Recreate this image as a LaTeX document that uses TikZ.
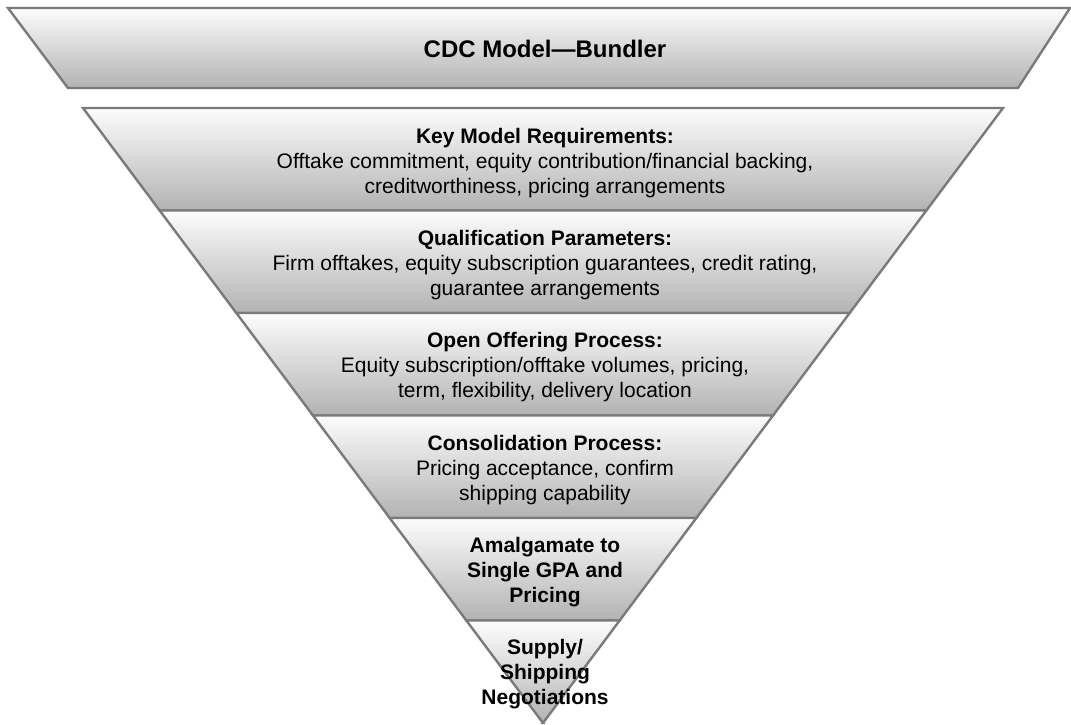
\documentclass[tikz,border=0pt]{standalone}
\usepackage{fontspec}
\setmainfont{Liberation Sans}
\usepackage{tikz}

\begin{document}
\begin{tikzpicture}[x=1pt, y=-1pt,
      band/.style={top color=black!1, bottom color=black!30,
        draw=black!52, line width=2.4pt, line join=miter},
      lbl/.style={font=\fontsize{21}{25}\selectfont, align=center, inner sep=0pt},
      hdr/.style={font=\fontsize{24}{28}\selectfont\bfseries, inner sep=0pt}]

    \useasboundingbox (0,0) rectangle (1071,724);

    % heading band
    \shade[band] (8,8) -- (1070,8) -- (1018,88) -- (68,88) -- cycle;
    \node[hdr] (title) at (545,49) {CDC Model---Bundler};

    % funnel bands
    \foreach \i in {0,...,5} {
      \pgfmathsetmacro\ya{108+102.5*\i}
      \pgfmathsetmacro\yb{\ya+102.5}
      \pgfmathsetmacro\xa{83+0.748*102.5*\i}
      \pgfmathsetmacro\xb{\xa+0.748*102.5}
      \shade[band] (\xa,\ya) -- ({1086-\xa},\ya) -- ({1086-\xb},\yb)
        -- (\xb,\yb) -- cycle;
    }

    \node[lbl] (req) at (545,163) {\textbf{Key Model Requirements:}\\
      Offtake commitment, equity contribution/financial backing,\\
      creditworthiness, pricing arrangements};
    \node[lbl] (qual) at (545,265) {\textbf{Qualification Parameters:}\\
      Firm offtakes, equity subscription guarantees, credit rating,\\
      guarantee arrangements};
    \node[lbl] (offer) at (545,367) {\textbf{Open Offering Process:}\\
      Equity subscription/offtake volumes, pricing,\\
      term, flexibility, delivery location};
    \node[lbl] (cons) at (545,470) {\textbf{Consolidation Process:}\\
      Pricing acceptance, confirm\\ shipping capability};
    \node[lbl, font=\fontsize{21}{25}\selectfont\bfseries] (amal) at (545,572)
      {Amalgamate to\\ Single GPA and\\ Pricing};
    \node[lbl, font=\fontsize{21}{25}\selectfont\bfseries] (ship) at (545,674)
      {Supply/\\ Shipping\\ Negotiations};
  \end{tikzpicture}
\end{document}
